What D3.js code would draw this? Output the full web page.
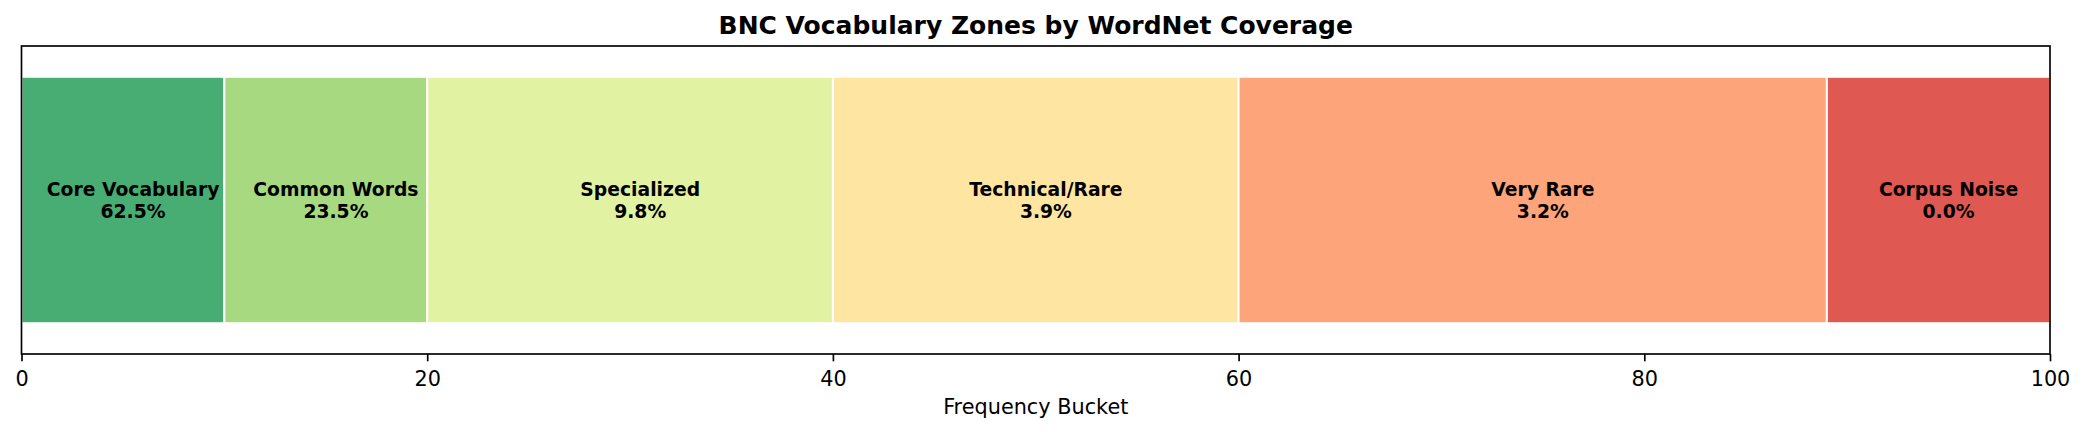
<!DOCTYPE html>
<html>
    <head>
        <title>BNC Vocabulary Zones</title>
        <script src="https://d3js.org/d3.v7.min.js"></script>
        <style>
            body { margin: 0; background: #fff; }
            text { font-family: "DejaVu Sans", sans-serif; }
        </style>
    </head>
    <body>
        <svg width="2084" height="432"></svg>
        <script>
            // zones along the frequency bucket axis
            const zoneNames = ["Core Vocabulary", "Common Words", "Specialized", "Technical/Rare", "Very Rare", "Corpus Noise"];
            const zoneStart = [0, 10, 20, 40, 60, 89];
            const zoneEnd = [10, 20, 40, 60, 89, 100];
            const coverage = [62.5, 23.5, 9.8, 3.9, 3.2, 0.0];
            const zoneColors = ["#1a9850", "#91cf60", "#d9ef8b", "#fee08b", "#fc8d59", "#d73027"];
            const xTicks = [0, 20, 40, 60, 80, 100];

            const data = zoneNames.map((name, i) => ({
                name: name,
                start: zoneStart[i],
                end: zoneEnd[i],
                pct: coverage[i],
                color: zoneColors[i]
            }));

            const svg = d3.select('svg');
            let margin = { top: 46, bottom: 78, left: 21.5, right: 34 };
            let width = svg.attr("width") - margin.left - margin.right;
            let height = svg.attr("height") - margin.top - margin.bottom;

            let xScale = d3.scaleLinear()
                    .range([0, width])
                    .domain([0, 100]);

            // single bar row, matplotlib-style ylim of -0.5..0.5
            let yScale = d3.scaleLinear()
                    .range([height, 0])
                    .domain([-0.5, 0.5]);

            let g = svg.append("g")
                    .attr("transform", "translate(" + margin.left + "," + margin.top + ")");

            g.selectAll('.zone')
            .data(data)
            .enter().append('rect')
            .attr('class', 'zone')
            .attr('x', d => xScale(d.start))
            .attr('y', yScale(0.4))
            .attr('width', d => xScale(d.end) - xScale(d.start))
            .attr('height', yScale(-0.4) - yScale(0.4))
            .style('fill', d => d.color)
            .style('fill-opacity', 0.8)
            .style('stroke', 'white')
            .style('stroke-width', 2);

            // labels in the middle of each zone
            let labels = g.selectAll('.zone-label')
            .data(data)
            .enter().append('text')
            .attr('class', 'zone-label')
            .attr('text-anchor', 'middle')
            .style('font-size', '18.75px')
            .style('font-weight', 'bold')
            .style('fill', 'black');

            labels.append('tspan')
                .attr('x', d => xScale((d.start + d.end + 1) / 2))
                .attr('y', yScale(0) - 4)
                .text(d => d.name);
            labels.append('tspan')
                .attr('x', d => xScale((d.start + d.end + 1) / 2))
                .attr('y', yScale(0) + 17.6)
                .text(d => d.pct.toFixed(1) + '%');

            // frame
            g.append('rect')
            .attr('x', 0)
            .attr('y', 0)
            .attr('width', width)
            .attr('height', height)
            .style('fill', 'none')
            .style('stroke', 'black')
            .style('stroke-width', 1.67);

            let xAxis = d3.axisBottom(xScale)
                        .tickValues(xTicks)
                        .tickFormat(d3.format('d'))
                        .tickSize(7.3)
                        .tickPadding(9.5);

            let xg = g.append('g')
            .attr("transform", "translate(0," + height + ")")
            .attr('class', 'x-axis')
            .call(xAxis);
            xg.select('.domain').remove();
            xg.selectAll('line').style('stroke', 'black').style('stroke-width', 1.67);
            xg.selectAll('text')
            .style('font-family', '"DejaVu Sans", sans-serif')
            .style('font-size', '20.8px')
            .style('fill', 'black');

            // axis label and title
            svg.append("text")
            .attr('x', margin.left + width / 2)
            .attr('y', 414)
            .style("text-anchor", 'middle')
            .style('font-size', '20.8px')
            .text("Frequency Bucket");

            svg.append("text")
            .attr('x', margin.left + width / 2)
            .attr('y', 34.3)
            .style("text-anchor", 'middle')
            .style('font-size', '25px')
            .style('font-weight', 'bold')
            .text("BNC Vocabulary Zones by WordNet Coverage");
        </script>
    </body>
</html>
